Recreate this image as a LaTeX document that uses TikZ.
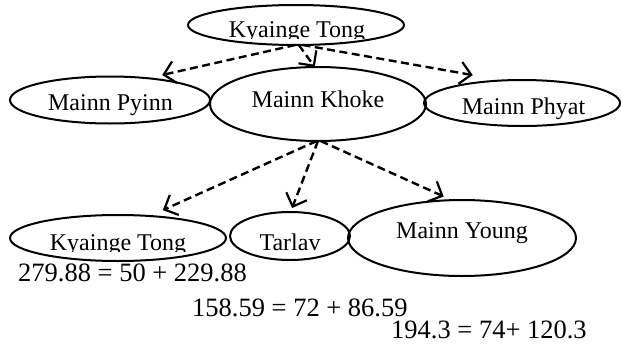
\documentclass[tikz,border=0pt]{standalone}
\usepackage{fontspec}
\setmainfont{Liberation Serif}
\usetikzlibrary{arrows.meta,shapes.geometric}
\begin{document}
\begin{tikzpicture}[x=1pt,y=-1pt,
  oval/.style={draw,ellipse,line width=2pt,inner sep=0pt,outer sep=0pt},
  lbl/.style={inner sep=0pt,anchor=base,font=\fontsize{24}{28}\selectfont},
  eqn/.style={inner sep=0pt,anchor=base west,font=\fontsize{26.5}{30}\selectfont},
  link/.style={line width=2.4pt,dash pattern=on 8pt off 4.5pt,
    -{Straight Barb[length=11pt,width=22pt,line width=2.2pt]}}]
\useasboundingbox (0,0) rectangle (621,343);
% ellipses
\node[oval,minimum width=216pt,minimum height=40pt] (top) at (296,25) {};
\node[oval,minimum width=200pt,minimum height=47pt] (pyinn) at (110,100) {};
\node[oval,minimum width=216pt,minimum height=74pt] (khoke) at (318,104) {};
\node[oval,minimum width=196pt,minimum height=46pt] (phyat) at (522,103) {};
\node[oval,minimum width=216pt,minimum height=46pt] (kt) at (118,238) {};
\node[oval,minimum width=120pt,minimum height=48pt] (tarlav) at (290,236) {};
\node[oval,minimum width=228pt,minimum height=76pt] (young) at (462,238) {};
% labels
\begin{scope}
\clip (0,0) rectangle (621,38);
\node[lbl] (ttop) at (297,37) {Kyainge Tong};
\end{scope}
\begin{scope}
\clip (0,200) rectangle (240,251);
\node[lbl] (tkt) at (118,250) {Kyainge Tong};
\end{scope}
\node[lbl] (tpyinn) at (110.5,110) {Mainn Pyinn};
\node[lbl] (tkhoke) at (318,107) {Mainn Khoke};
\node[lbl] (tphyat) at (523.5,114) {Mainn Phyat};
\node[lbl] (ttarlav) at (290,250) {Tarlav};
\node[lbl] (tyoung) at (462,238) {Mainn Young};
% equations
\node[eqn] (e1) at (18,281) {279.88 = 50 + 229.88};
\node[eqn] (e2) at (192,316) {158.59 = 72 + 86.59};
\node[eqn] (e3) at (391,338) {194.3 = 74+ 120.3};
% connectors
\draw[link] (top.-92) -- ([yshift=5pt]pyinn.21);
\draw[link] (top.-82) -- (khoke.95);
\draw[link] (top.-72) -- ([yshift=8pt]phyat.158);
\draw[link] (khoke.-92) -- ([yshift=7pt]kt.25);
\draw[link] (khoke.-90) -- ([yshift=4pt]tarlav.85);
\draw[link] (khoke.-86) -- ([yshift=4pt]young.116);
\end{tikzpicture}
\end{document}
